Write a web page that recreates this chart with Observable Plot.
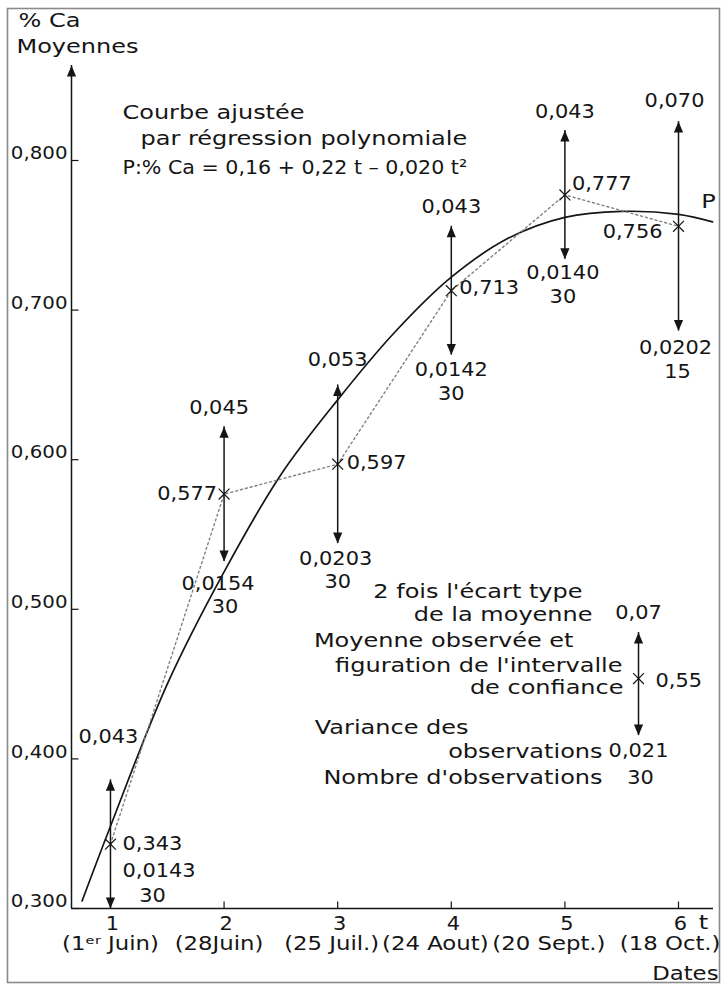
<!DOCTYPE html>
<html><head><meta charset="utf-8">
<script src="https://cdn.jsdelivr.net/npm/d3@7"></script>
<script src="https://cdn.jsdelivr.net/npm/@observablehq/plot@0.6"></script>
<style>
body{margin:0;background:#fff;}
#chart svg{display:block;}
</style></head><body><div id="chart"></div>
<script>
// ---- data ----
const tValues = [1, 2, 3, 4, 5, 6];
const dateLabels = ["(1ᵉʳ Juin)", "(28Juin)", "(25 Juil.)", "(24 Aout)", "(20 Sept.)", "(18 Oct.)"];
const means = [0.343, 0.577, 0.597, 0.713, 0.777, 0.756];
const twoSE = [0.043, 0.045, 0.053, 0.043, 0.043, 0.070];
const variances = [0.0143, 0.0154, 0.0203, 0.0142, 0.0140, 0.0202];
const counts = [30, 30, 30, 30, 30, 15];
const yTicks = [0.3, 0.4, 0.5, 0.6, 0.7, 0.8];
const fitT = [0.75, 1, 1.5, 2, 2.5, 3, 3.5, 4, 4.5, 5, 5.5, 6, 6.3];
const fitCa = [0.305, 0.355, 0.45, 0.525, 0.59, 0.64, 0.685, 0.722, 0.748, 0.762, 0.766, 0.764, 0.759];
// legend example (illustrative interval)
const legendValues = {mean: "0,55", se: "0,07", variance: "0,021", n: "30"};

// ---- layout ----
const xDomain = [0.657, 6.308];
const yAxisTop = 0.8635;
const legendPos = {t: 5.648, mean: 0.4537, hi: 0.4845, lo: 0.4156};
const ink = "#151515";

const obs = tValues.map((t, i) => ({
  t, date: dateLabels[i], mean: means[i], se: twoSE[i],
  hi: means[i] + twoSE[i], lo: means[i] - twoSE[i], v: variances[i], n: counts[i]
}));
const fit = fitT.map((t, i) => ({t, ca: fitCa[i]}));
const comma = (v, d) => v.toFixed(d).replace(".", ",");

const arrowUp = {draw(c) { c.moveTo(0, 0); c.lineTo(-4.6, 11); c.lineTo(4.6, 11); c.closePath(); }};
const arrowDown = {draw(c) { c.moveTo(0, 0); c.lineTo(-4.6, -11); c.lineTo(4.6, -11); c.closePath(); }};
const tickRight = {draw(c) { c.moveTo(0, 0); c.lineTo(7, 0); }};
const tickUp = {draw(c) { c.moveTo(0, 0); c.lineTo(0, -7); }};

const W = (data, o) => Plot.text(data, {fontSize: 20, fill: ink, ...o});
const N = (data, o) => Plot.text(data, {fontSize: 19, fill: ink, ...o});

// per-point label offsets
const topOff = [[-2, -43], [-5, -19], [0, -25], [0, -19], [0, -19], [-4, -21]];
const meanOff = [["start", 12, 0], ["end", -7, 0], ["start", 9, -1], ["start", 8, -3], ["start", 7, -11], ["end", -16, 6]];
const varOff = [["start", 12, -38], ["middle", -6, 22], ["middle", -2, 15], ["middle", 0, 15], ["middle", -2, 14], ["middle", -3, 17]];
const nOff = [[42, -13], [1, 45], [0, 38], [0, 39], [-2, 38], [-1, 41]];
const dateOff = [["middle", 0], ["middle", -5], ["middle", -6], ["middle", -16], ["middle", -16], ["end", 42]];

const marks = [
  Plot.frame({insetLeft: -64, insetRight: -6, insetTop: -152, insetBottom: -74, stroke: "#8a8a8a", strokeWidth: 1.6}),
  // axes
  Plot.ruleX([xDomain[0]], {y1: 0.3, y2: yAxisTop, stroke: ink, strokeWidth: 1.5}),
  Plot.dot([{x: xDomain[0], y: yAxisTop}], {x: "x", y: "y", symbol: arrowUp, fill: ink, stroke: "none"}),
  Plot.ruleY([0.3], {stroke: ink, strokeWidth: 1.5}),
  Plot.dot(yTicks, {x: () => xDomain[0], y: d => d, symbol: tickRight, fill: "none", stroke: ink, strokeWidth: 1.2}),
  Plot.dot(tValues, {x: d => d, y: () => 0.3, symbol: tickUp, fill: "none", stroke: ink, strokeWidth: 1.2}),
  N(yTicks, {x: () => xDomain[0], y: d => d, text: d => comma(d, 3), textAnchor: "end", dx: -4, dy: -7, fontSize: 18}),
  N(tValues, {x: d => d, y: () => 0.3, text: d => String(d), dx: 2, dy: 15}),
  W([6], {x: d => d, y: () => 0.3, text: () => "t", dx: 25, dy: 14}),
  ...obs.map((d, i) => W([d], {x: "t", y: () => 0.3, text: "date", textAnchor: dateOff[i][0], dx: dateOff[i][1], dy: 35, fontSize: 19})),
  W([6], {x: d => d, y: () => 0.3, text: () => "Dates", textAnchor: "end", dx: 40, dy: 65, fontSize: 19}),
  W([xDomain[0]], {x: d => d, y: () => yAxisTop, text: () => "% Ca", textAnchor: "start", dx: -53, dy: -45}),
  W([xDomain[0]], {x: d => d, y: () => yAxisTop, text: () => "Moyennes", textAnchor: "start", dx: -55, dy: -19}),
  // fitted curve and observed means
  Plot.line(fit, {x: "t", y: "ca", curve: "catmull-rom", stroke: ink, strokeWidth: 1.7}),
  Plot.line(obs, {x: "t", y: "mean", stroke: "#808080", strokeWidth: 1.4, strokeDasharray: "2,3"}),
  Plot.ruleX(obs, {x: "t", y1: "lo", y2: "hi", stroke: ink, strokeWidth: 1.5}),
  Plot.dot(obs, {x: "t", y: "hi", symbol: arrowUp, fill: ink, stroke: "none"}),
  Plot.dot(obs, {x: "t", y: "lo", symbol: arrowDown, fill: ink, stroke: "none"}),
  Plot.dot(obs, {x: "t", y: "mean", symbol: "times", r: 5, fill: "none", stroke: ink, strokeWidth: 1.2}),
  ...obs.map((d, i) => N([d], {x: "t", y: "hi", text: x => comma(x.se, 3), dx: topOff[i][0], dy: topOff[i][1]})),
  ...obs.map((d, i) => N([d], {x: "t", y: "mean", text: x => comma(x.mean, 3), textAnchor: meanOff[i][0], dx: meanOff[i][1], dy: meanOff[i][2]})),
  ...obs.map((d, i) => N([d], {x: "t", y: "lo", text: x => comma(x.v, 4), textAnchor: varOff[i][0], dx: varOff[i][1], dy: varOff[i][2]})),
  ...obs.map((d, i) => N([d], {x: "t", y: "lo", text: x => String(x.n), dx: nOff[i][0], dy: nOff[i][1]})),
  W([6], {x: d => d, y: () => fitCa[11], text: () => "P", textAnchor: "middle", dx: 30, dy: -13}),
  // equation
  W([1], {x: d => d, y: () => 0.8, text: () => "Courbe ajustée", textAnchor: "start", dx: 12, dy: -48}),
  W([1], {x: d => d, y: () => 0.8, text: () => "par régression polynomiale", textAnchor: "start", dx: 30, dy: -22}),
  W([1], {x: d => d, y: () => 0.8, text: () => "P:% Ca = 0,16 + 0,22 t – 0,020 t²", textAnchor: "start", dx: 12, dy: 7}),
  // legend
  Plot.ruleX([legendPos], {x: "t", y1: "lo", y2: "hi", stroke: ink, strokeWidth: 1.5}),
  Plot.dot([legendPos], {x: "t", y: "hi", symbol: arrowUp, fill: ink, stroke: "none"}),
  Plot.dot([legendPos], {x: "t", y: "lo", symbol: arrowDown, fill: ink, stroke: "none"}),
  Plot.dot([legendPos], {x: "t", y: "mean", symbol: "times", r: 5, fill: "none", stroke: ink, strokeWidth: 1.2}),
  ...[
    ["2 fois l'écart type", "end", -56, -87],
    ["de la moyenne", "end", -46, -64],
    ["Moyenne observée et", "end", -65, -38],
    ["figuration de l'intervalle", "end", -16, -13],
    ["de confiance", "end", -15, 9],
    ["Variance des", "end", -170, 49],
    ["observations", "end", -36, 73],
    ["Nombre d'observations", "end", -36, 99]
  ].map(([s, a, dx, dy]) => W([legendPos], {x: "t", y: "mean", text: () => s, textAnchor: a, dx, dy})),
  N([legendPos], {x: "t", y: "mean", text: () => legendValues.se, dx: 0, dy: -66}),
  N([legendPos], {x: "t", y: "mean", text: () => legendValues.mean, textAnchor: "start", dx: 17, dy: 2}),
  N([legendPos], {x: "t", y: "mean", text: () => legendValues.variance, dx: 0, dy: 72}),
  N([legendPos], {x: "t", y: "mean", text: () => legendValues.n, dx: 2, dy: 99})
];

const svg = Plot.plot({
  width: 722, height: 985,
  marginLeft: 71, marginRight: 9, marginTop: 160, marginBottom: 77,
  x: {domain: xDomain, axis: null},
  y: {domain: [0.3, 0.8], axis: null},
  style: {fontFamily: '"DejaVu Sans", sans-serif', fontSize: "19px", background: "white", color: ink, overflow: "visible"},
  marks
});
document.getElementById("chart").append(svg);
// horizontally widen text to mimic the original extended typeface
svg.querySelectorAll("text").forEach(el => {
  const s0 = el.textContent.trim();
  const s = /^[\d,]+$/.test(s0) ? 1.1 : s0.startsWith("P:%") ? 1.03 : 1.2;
  const tr = el.getAttribute("transform") || "";
  el.setAttribute("transform", `${tr} scale(${s},1)`);
});
</script></body></html>
